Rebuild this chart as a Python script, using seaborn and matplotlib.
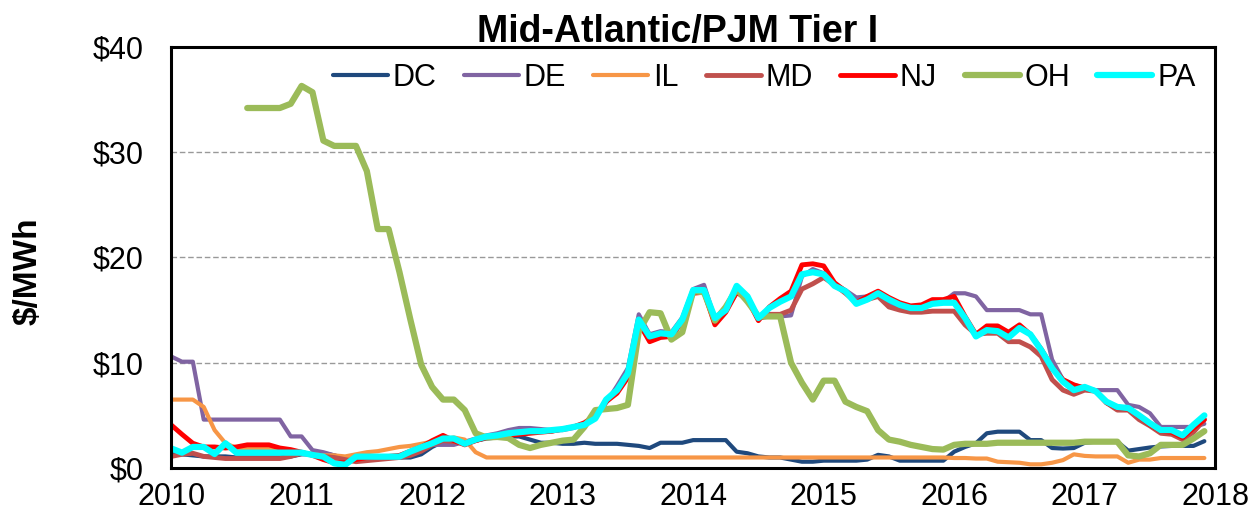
import numpy as np
import pandas as pd
import matplotlib
matplotlib.use('Agg')
import matplotlib.pyplot as plt
import seaborn as sns

# monthly prices, Jan 2010 .. Dec 2017
dc = [1.3, 1.3, 1.2, 1.1, 1.1, 1.1, 1.0, 1.0, 1.0, 1.0, 1.0, 1.1,
      1.3, 1.3, 1.4, 1.2, 0.9, 0.7, 0.8, 0.9, 1.0, 1.0, 1.0, 1.3,
      2.0, 2.5, 2.4, 2.4, 2.6, 2.8, 2.9, 3.0, 3.0, 2.7, 2.4, 2.4,
      2.3, 2.3, 2.4, 2.3, 2.3, 2.3, 2.2, 2.1, 1.9, 2.4, 2.4, 2.4,
      2.65, 2.65, 2.65, 2.65, 1.55, 1.4, 1.1, 1.0, 1.0, 0.8, 0.6, 0.6,
      0.7, 0.7, 0.7, 0.7, 0.8, 1.25, 1.1, 0.7, 0.7, 0.7, 0.7, 0.7,
      1.55, 2.0, 2.35, 3.3, 3.45, 3.45, 3.45, 2.65, 2.65, 1.9, 1.85, 1.9,
      2.4, 2.5, 2.5, 2.5, 1.65, 1.8, 1.95, 2.05, 2.1, 2.1, 2.1, 2.55]
de = [10.6, 10.1, 10.1, 4.6, 4.6, 4.6, 4.6, 4.6, 4.6, 4.6, 4.6, 3.0,
      3.0, 1.7, 1.5, 1.2, 0.9, 0.9, 1.0, 1.0, 1.0, 1.1, 1.5, 1.8,
      2.2, 2.2, 2.2, 2.5, 2.8, 3.1, 3.3, 3.6, 3.8, 3.8, 3.7, 3.6,
      3.6, 3.8, 4.2, 5.0, 6.2, 7.8, 9.5, 14.6, 12.7, 13.0, 12.9, 14.3,
      17.0, 17.4, 14.2, 15.0, 16.6, 16.3, 14.2, 14.4, 14.4, 14.5, 18.2, 18.9,
      18.5, 17.5, 16.9, 16.2, 16.3, 16.5, 15.6, 15.3, 15.3, 15.3, 15.6, 15.8,
      16.6, 16.6, 16.3, 15.0, 15.0, 15.0, 15.0, 14.6, 14.6, 10.3, 8.4, 7.9,
      7.6, 7.4, 7.4, 7.4, 6.0, 5.8, 5.2, 3.9, 3.9, 3.9, 3.9, 4.2]
il = [6.5, 6.5, 6.5, 5.8, 3.6, 2.35, 1.9, 1.9, 1.9, 1.9, 1.8, 1.6,
      1.5, 1.3, 1.2, 1.2, 1.1, 1.3, 1.5, 1.6, 1.8, 2.0, 2.1, 2.3,
      2.5, 2.7, 2.9, 2.7, 1.5, 1.0, 1.0, 1.0, 1.0, 1.0, 1.0, 1.0,
      1.0, 1.0, 1.0, 1.0, 1.0, 1.0, 1.0, 1.0, 1.0, 1.0, 1.0, 1.0,
      1.0, 1.0, 1.0, 1.0, 1.0, 1.0, 1.0, 1.0, 1.0, 1.0, 1.0, 1.0,
      1.0, 1.0, 1.0, 1.0, 1.0, 1.0, 1.0, 1.0, 1.0, 1.0, 1.0, 1.0,
      0.95, 0.95, 0.9, 0.9, 0.6, 0.55, 0.5, 0.35, 0.35, 0.5, 0.75, 1.3,
      1.15, 1.1, 1.1, 1.1, 0.5, 0.8, 0.8, 0.95, 0.95, 0.95, 0.95, 0.95]
md = [1.1, 1.3, 1.4, 1.1, 1.0, 0.9, 0.9, 0.9, 0.9, 0.9, 0.9, 1.1,
      1.4, 1.3, 1.1, 1.0, 0.8, 0.6, 0.7, 0.8, 0.9, 1.0, 1.2, 1.6,
      2.2, 2.6, 2.5, 2.4, 2.6, 2.9, 3.0, 3.2, 3.3, 3.4, 3.5, 3.5,
      3.7, 3.9, 4.2, 4.9, 6.3, 7.3, 8.8, 14.0, 12.3, 12.6, 12.6, 14.0,
      16.8, 16.8, 14.0, 15.0, 17.0, 16.2, 14.2, 14.6, 14.6, 15.0, 17.0, 17.5,
      18.1, 17.4, 16.6, 15.7, 16.0, 16.3, 15.3, 15.0, 14.8, 14.8, 14.9, 14.9,
      14.9, 13.6, 12.7, 12.8, 12.8, 12.0, 12.0, 11.5, 10.6, 8.4, 7.4, 7.0,
      7.4, 7.3, 6.2, 5.5, 5.5, 4.6, 4.0, 3.3, 3.2, 2.7, 3.4, 4.6]
nj = [4.1, 3.2, 2.35, 2.0, 2.0, 1.9, 2.0, 2.2, 2.2, 2.2, 1.9, 1.75,
      1.5, 1.2, 0.8, 0.5, 0.5, 0.8, 1.0, 1.1, 1.1, 1.2, 1.6, 2.0,
      2.6, 3.1, 2.6, 2.2, 2.6, 2.9, 3.0, 3.1, 3.2, 3.3, 3.4, 3.5,
      3.7, 3.9, 4.3, 5.0, 6.3, 7.1, 8.6, 13.8, 12.0, 12.4, 12.5, 13.9,
      16.6, 16.7, 13.6, 14.8, 16.7, 16.0, 14.0, 15.3, 16.1, 16.8, 19.3, 19.4,
      19.2, 17.6, 16.8, 15.7, 16.3, 16.8, 16.2, 15.7, 15.4, 15.5, 16.0, 16.0,
      16.3, 14.4, 12.7, 13.5, 13.5, 12.9, 13.6, 12.7, 11.3, 9.6, 8.4, 7.9,
      7.6, 7.3, 6.2, 5.7, 5.6, 4.9, 4.1, 3.5, 3.4, 2.9, 3.8, 4.6]
oh = [np.nan] * 7 + [
      34.2, 34.2, 34.2, 34.2, 34.6,
      36.3, 35.7, 31.1, 30.6, 30.6, 30.6, 28.2, 22.7, 22.7, 18.6, 14.1, 9.8,
      7.7, 6.5, 6.5, 5.5, 3.3, 2.9, 2.95, 2.85, 2.2, 1.9, 2.2, 2.4,
      2.6, 2.7, 3.9, 5.5, 5.6, 5.7, 6.0, 13.0, 14.8, 14.7, 12.2, 12.9,
      16.8, 16.7, 14.0, 15.3, 17.0, 15.8, 14.4, 14.4, 14.4, 10.0, 8.1, 6.5,
      8.3, 8.3, 6.3, 5.8, 5.4, 3.6, 2.7, 2.5, 2.2, 2.0, 1.8, 1.75,
      2.2, 2.3, 2.3, 2.3, 2.4, 2.4, 2.4, 2.4, 2.4, 2.4, 2.4, 2.4,
      2.5, 2.5, 2.5, 2.5, 1.2, 1.1, 1.4, 2.2, 2.2, 2.2, 2.8, 3.5]
pa = [1.87, 1.46, 2.0, 2.0, 1.33, 2.35, 1.46, 1.46, 1.46, 1.46, 1.46, 1.46,
      1.46, 1.24, 1.08, 0.44, 0.3, 1.08, 1.08, 1.08, 1.08, 1.08, 1.56, 1.97,
      2.35, 2.8, 2.8, 2.3, 2.7, 3.0, 3.1, 3.3, 3.4, 3.5, 3.5, 3.6,
      3.7, 3.9, 4.1, 4.7, 6.5, 7.4, 9.0, 14.1, 12.5, 12.8, 12.7, 14.1,
      16.9, 16.9, 14.25, 15.0, 17.3, 16.3, 14.25, 15.2, 15.8, 16.3, 18.4, 18.6,
      18.4, 17.3, 16.8, 15.6, 16.0, 16.6, 16.0, 15.5, 15.2, 15.2, 15.6, 15.7,
      15.7, 14.25, 12.5, 13.1, 13.0, 12.4, 13.3, 12.7, 11.2, 9.5, 8.2, 7.4,
      7.7, 7.3, 6.3, 5.8, 5.7, 5.0, 4.25, 3.6, 3.6, 3.1, 4.1, 5.0]

states = ['DC', 'DE', 'IL', 'MD', 'NJ', 'OH', 'PA']
colors = ['#1F497D', '#8064A2', '#F79646', '#C0504D', '#FF0000', '#9BBB59', '#00FFFF']
widths = [3, 3, 3, 3.5, 3.5, 4.5, 4.5]

months = 2010 + np.arange(96) / 12
df = pd.DataFrame({'DC': dc, 'DE': de, 'IL': il, 'MD': md, 'NJ': nj, 'OH': oh, 'PA': pa})
df['date'] = months
long = df.melt(id_vars='date', var_name='state', value_name='price')

sns.set_style('white')
plt.rcParams['font.family'] = ['Liberation Sans', 'DejaVu Sans']
plt.rcParams['text.color'] = 'black'
plt.rcParams['xtick.color'] = 'black'
plt.rcParams['ytick.color'] = 'black'
plt.rcParams['axes.labelcolor'] = 'black'

fig = plt.figure(figsize=(12.58, 5.16), dpi=100)
ax = fig.add_axes([0.136, 0.093, 0.830, 0.816])

for s, c, w in zip(states, colors, widths):
    sns.lineplot(data=long[long['state'] == s], x='date', y='price',
                 color=c, linewidth=w, label=s, ax=ax)

ax.set_xlim(2010, 2018)
ax.set_ylim(0, 40)
ax.set_xticks(range(2010, 2019))
ax.set_xticks(np.arange(2010, 2018.01, 0.25), minor=True)
ax.set_yticks([0, 10, 20, 30, 40])
ax.set_yticklabels(['$0', '$10', '$20', '$30', '$40'])
ax.tick_params(axis='both', which='major', labelsize=22, direction='out',
               width=1.5, color='black', labelcolor='black')
ax.tick_params(axis='y', which='major', length=6, pad=14)
ax.tick_params(axis='x', which='major', length=7, pad=3)
ax.tick_params(axis='x', which='minor', direction='out', length=4, width=1.2, color='black')
for y in [10, 20, 30]:
    ax.axhline(y, color='#999999', linestyle=(0, (4, 2)), linewidth=1, zorder=0)
for sp in ax.spines.values():
    sp.set_visible(True)
    sp.set_color('black')
    sp.set_linewidth(2.2)

ax.set_xlabel('')
ax.set_ylabel('')
fig.text(0.0223, 0.475, '$/MWh', rotation=90, ha='center', va='center',
         fontsize=24, fontweight='bold', color='black')
fig.text(0.5386, 0.919, 'Mid-Atlantic/PJM Tier I', ha='center', va='baseline',
         fontsize=27, fontweight='bold', color='black')

leg = ax.legend(loc='center', bbox_to_anchor=(0.568, 0.926), ncol=7, frameon=False,
                fontsize=22, handlelength=1.8, columnspacing=0.9, handletextpad=0.15)
for t in leg.get_texts():
    t.set_color('black')

fig.savefig('out.png', dpi=100)
